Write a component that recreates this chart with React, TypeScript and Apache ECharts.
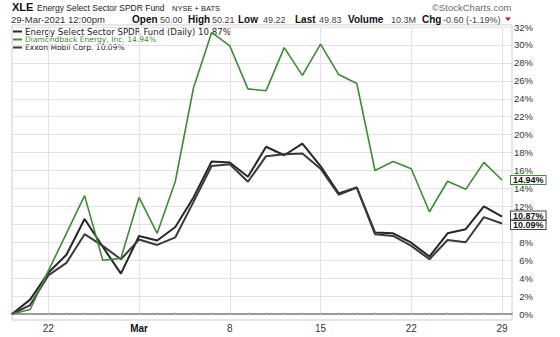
import React, { useEffect, useRef } from "react";
import * as echarts from "echarts";

// Trading days of the chart (index = position on the x axis)
const dates = [
  "2021-02-18", "2021-02-19", "2021-02-22", "2021-02-23", "2021-02-24", "2021-02-25", "2021-02-26",
  "2021-03-01", "2021-03-02", "2021-03-03", "2021-03-04", "2021-03-05", "2021-03-08", "2021-03-09",
  "2021-03-10", "2021-03-11", "2021-03-12", "2021-03-15", "2021-03-16", "2021-03-17", "2021-03-18",
  "2021-03-19", "2021-03-22", "2021-03-23", "2021-03-24", "2021-03-25", "2021-03-26", "2021-03-29",
];
const tickIndices = [2, 7, 12, 17, 22, 27];
const tickLabels = ["22", "Mar", "8", "15", "22", "29"];

const seriesNames = [
  "Energy Select Sector SPDR Fund (Daily)",
  "Diamondback Energy, Inc.",
  "Exxon Mobil Corp.",
];

// % change since start
const xleValues = [
  0, 1.6, 4.6, 6.6, 10.6, 7.5, 4.5, 8.7, 8.2, 9.7, 13.0, 17.0, 16.9, 15.3,
  18.65, 17.7, 19.0, 16.5, 13.45, 14.1, 9.1, 9.0, 7.95, 6.4, 9.0, 9.45, 12.0, 10.87,
];
const fangValues = [
  0, 0.5, 4.8, 9.0, 13.2, 6.0, 6.2, 13.0, 9.0, 14.8, 25.2, 31.4, 29.9, 25.1,
  24.9, 29.7, 26.6, 30.1, 26.7, 25.7, 16.0, 17.0, 16.2, 11.4, 14.8, 13.9, 16.9, 14.94,
];
const xomValues = [
  0, 1.0, 4.3, 5.7, 8.9, 7.6, 6.1, 8.3, 7.7, 8.55, 12.5, 16.5, 16.7, 14.75,
  17.6, 17.8, 17.9, 16.2, 13.3, 14.1, 8.9, 8.7, 7.6, 6.1, 8.25, 8.0, 10.8, 10.09,
];

const yTickStep = 2;
const yMin = 0;
const yMax = 32;
// tick label hidden behind the last-value tags in the reference
const yHiddenLabels = [10];

const GREEN = "#3b8d31";
const XLE_COLOR = "#262626";
const XOM_COLOR = "#3a3a3a";
const FONT = "Liberation Sans, Arial, sans-serif";

const last = (a: number[]) => a[a.length - 1];

export default function App() {
  const ref = useRef<HTMLDivElement>(null);

  useEffect(() => {
    document.body.style.margin = "0";
    if (!ref.current) return;
    const chart = echarts.init(ref.current, undefined, { renderer: "svg" });

    const xMax = dates.length - 1 + 0.55;

    const endLabel = (border: string, dy: number) => ({
      show: true,
      formatter: (p: any) => Number(p.value[1]).toFixed(2) + "%",
      distance: 9,
      offset: [0, dy],
      backgroundColor: "#fff",
      borderColor: border,
      borderWidth: 1,
      padding: [0, 2, 0, 2],
      lineHeight: 8,
      fontSize: 9,
      fontWeight: "bold",
      color: "#111",
      fontFamily: FONT,
    });

    const headerLabel = (text: string, x: number) => ({
      type: "text",
      x,
      y: 19,
      style: { text, font: `bold 10px ${FONT}`, fill: "#111", verticalAlign: "middle" },
    });
    const headerValue = (text: string, x: number) => ({
      type: "text",
      x,
      y: 19.5,
      style: { text, font: `9px ${FONT}`, fill: "#444", verticalAlign: "middle" },
    });

    const option: any = {
      animation: false,
      grid: { left: 12, right: 48, top: 27, height: 287 },
      xAxis: [
        {
          type: "value",
          min: 0,
          max: xMax,
          position: "bottom",
          axisLine: { show: true, onZero: false, lineStyle: { color: "#9a9a9a", width: 2 } },
          axisTick: { show: false, customValues: tickIndices },
          axisLabel: {
            customValues: tickIndices,
            margin: 9,
            fontSize: 10,
            color: "#333",
            fontFamily: FONT,
            formatter: (v: number) => {
              const k = tickIndices.indexOf(Math.round(v));
              const t = k >= 0 ? tickLabels[k] : "";
              return t === "Mar" ? "{b|Mar}" : t;
            },
            rich: { b: { fontWeight: "bold", fontSize: 10, color: "#111", fontFamily: FONT } },
          },
          splitLine: { show: true, lineStyle: { color: "#e2e2e2", width: 1 } },
        },
        {
          type: "value",
          min: 0,
          max: xMax,
          interval: 1,
          position: "bottom",
          offset: 6,
          axisLine: { show: false },
          axisTick: { show: true, inside: true, length: 2, lineStyle: { color: "#c4c4c4" } },
          axisLabel: { show: false },
          splitLine: { show: false },
        },
      ],
      yAxis: {
        type: "value",
        position: "right",
        min: yMin,
        max: yMax,
        interval: yTickStep,
        axisLine: { show: false },
        axisTick: { show: false },
        axisLabel: {
          formatter: (v: number) => (yHiddenLabels.includes(v) ? "" : `${v}%`),
          align: "right",
          margin: 21,
          fontSize: 9.5,
          lineHeight: 7,
          color: "#333",
          fontFamily: FONT,
        },
        splitLine: { show: true, lineStyle: { color: "#e2e2e2", width: 1 } },
      },
      series: [
        {
          type: "line",
          name: seriesNames[0],
          data: xleValues.map((v, i) => [i, v]),
          symbol: "none",
          lineStyle: { color: XLE_COLOR, width: 2 },
          endLabel: endLabel("#444", -1),
          z: 3,
        },
        {
          type: "line",
          name: seriesNames[1],
          data: fangValues.map((v, i) => [i, v]),
          symbol: "none",
          lineStyle: { color: GREEN, width: 1.6 },
          endLabel: endLabel(GREEN, 0),
          z: 4,
        },
        {
          type: "line",
          name: seriesNames[2],
          data: xomValues.map((v, i) => [i, v]),
          symbol: "none",
          lineStyle: { color: XOM_COLOR, width: 2 },
          endLabel: endLabel("#444", 1.5),
          z: 3,
        },
      ],
      graphic: [
        {
          type: "rect",
          shape: { x: 12, y: 25, width: 500, height: 295 },
          style: { fill: "none", stroke: "#cdcdcd", lineWidth: 1 },
          silent: true,
        },
        // Header
        {
          type: "text",
          x: 12,
          y: 7,
          style: { text: "XLE", font: `bold 11px ${FONT}`, fill: "#111", verticalAlign: "middle" },
        },
        {
          type: "text",
          x: 37,
          y: 7.5,
          style: { text: "Energy Select Sector SPDR Fund", font: `8.5px ${FONT}`, fill: "#222", verticalAlign: "middle" },
        },
        {
          type: "text",
          x: 172,
          y: 8,
          style: { text: "NYSE + BATS", font: `7.5px ${FONT}`, fill: "#222", verticalAlign: "middle" },
        },
        {
          type: "text",
          x: 432,
          y: 7,
          style: { text: "©StockCharts.com", font: `9.5px ${FONT}`, fill: "#6a6a6a", verticalAlign: "middle" },
        },
        {
          type: "text",
          x: 11,
          y: 19.5,
          style: { text: "29-Mar-2021 12:00pm", font: `9.5px ${FONT}`, fill: "#333", verticalAlign: "middle" },
        },
        headerLabel("Open", 132),
        headerValue("50.00", 160),
        headerLabel("High", 188),
        headerValue("50.21", 212),
        headerLabel("Low", 238),
        headerValue("49.22", 263),
        headerLabel("Last", 295),
        headerValue("49.83", 319),
        headerLabel("Volume", 348),
        headerValue("10.3M", 391),
        headerLabel("Chg", 422),
        headerValue("-0.60 (-1.19%)", 443),
        {
          type: "polygon",
          shape: { points: [[505, 17.5], [511, 17.5], [508, 21]] },
          style: { fill: "#c8102e" },
        },
        // Legend
        {
          type: "rect",
          shape: { x: 13, y: 30.5, width: 9, height: 2 },
          style: { fill: XLE_COLOR },
        },
        {
          type: "text",
          x: 25,
          y: 31.5,
          style: {
            text: `${seriesNames[0]} ${last(xleValues).toFixed(2)}%`,
            font: `8.6px DejaVu Sans, sans-serif`,
            fill: "#222",
            verticalAlign: "middle",
          },
        },
        {
          type: "rect",
          shape: { x: 13, y: 38.5, width: 9, height: 2 },
          style: { fill: GREEN },
        },
        {
          type: "text",
          x: 25,
          y: 39.6,
          style: {
            text: `${seriesNames[1]} ${last(fangValues).toFixed(2)}%`,
            font: `7.6px DejaVu Sans, sans-serif`,
            fill: GREEN,
            verticalAlign: "middle",
          },
        },
        {
          type: "rect",
          shape: { x: 13, y: 46.5, width: 9, height: 2 },
          style: { fill: XOM_COLOR },
        },
        {
          type: "text",
          x: 25,
          y: 47.6,
          style: {
            text: `${seriesNames[2]} ${last(xomValues).toFixed(2)}%`,
            font: `7.6px DejaVu Sans, sans-serif`,
            fill: "#222",
            verticalAlign: "middle",
          },
        },
      ],
    };

    chart.setOption(option);
    return () => chart.dispose();
  }, []);

  return <div ref={ref} style={{ width: 560, height: 337 }} />;
}
